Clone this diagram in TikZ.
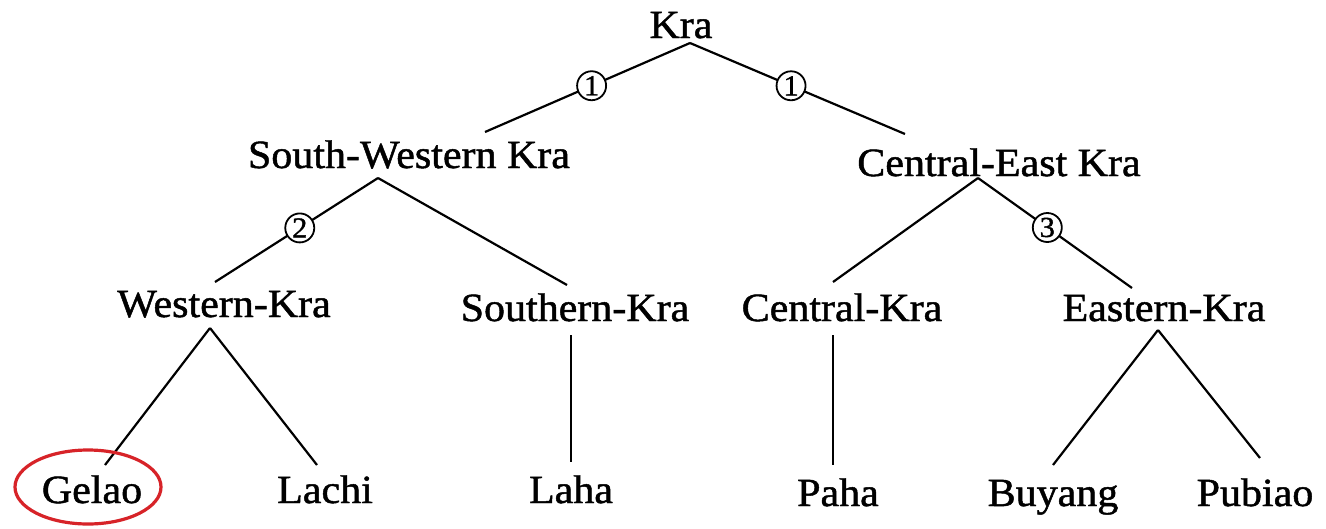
\documentclass[tikz,border=0pt]{standalone}
\usepackage{fontspec}
\setmainfont{Liberation Serif}[FakeStretch=1.05,FakeBold=1.2]
\usetikzlibrary{calc}
\definecolor{markred}{RGB}{215,35,40}
\begin{document}
\begin{tikzpicture}[x=1pt,y=-1pt,
  lbl/.style={anchor=base, inner sep=0pt, font=\fontsize{40}{46}\selectfont},
  edge/.style={line width=2.2pt, black},
  num/.style={circle, draw, fill=white, line width=1.8pt, inner sep=0pt, minimum size=29pt, font=\fontsize{29}{30}\selectfont},
  mark ring/.style={draw=markred, line width=3.2pt}]
\useasboundingbox (0,0) rectangle (1326,528);
\fill[white] (0,0) rectangle (1326,528);
% level 0
\node[lbl] (kra) at (681,38) {Kra};
% level 1
\node[lbl] (sw) at (409,168) {South-Western Kra};
\node[lbl] (ce) at (999,176) {Central-East Kra};
% level 2
\node[lbl] (west) at (224,317) {Western-Kra};
\node[lbl] (south) at (575,321) {Southern-Kra};
\node[lbl] (central) at (842,321) {Central-Kra};
\node[lbl] (east) at (1164,321) {Eastern-Kra};
% leaves
\node[lbl] (gelao) at (92,503) {Gelao};
\node[lbl] (lachi) at (325,503) {Lachi};
\node[lbl] (laha) at (571,503) {Laha};
\node[lbl] (paha) at (838,506) {Paha};
\node[lbl] (buyang) at (1053,506) {Buyang};
\node[lbl] (pubiao) at (1255,506) {Pubiao};
% connectors
\draw[edge] ($(kra.base)+(9,5)$) -- node[num,pos=0.48]{1} ($(sw.base)+(76,-36)$);
\draw[edge] ($(kra.base)+(9,5)$) -- node[num,pos=0.47]{1} ($(ce.base)+(-94,-42)$);
\draw[edge] ($(sw.base)+(-31,10)$) -- node[num,pos=0.48]{2} ($(west.base)+(-9,-35)$);
\draw[edge] ($(sw.base)+(-31,10)$) -- ($(south.base)+(-8,-36)$);
\draw[edge] ($(ce.base)+(-21,2)$) -- ($(central.base)+(-9,-39)$);
\draw[edge] ($(ce.base)+(-21,2)$) -- node[num,pos=0.45]{3} ($(east.base)+(-32,-33)$);
\draw[edge] ($(west.base)+(-14,11)$) -- ($(gelao.base)+(13,-38)$);
\draw[edge] ($(west.base)+(-14,11)$) -- ($(lachi.base)+(-8,-38)$);
\draw[edge] ($(south.base)+(-4,14)$) -- ($(laha.base)+(0,-41)$);
\draw[edge] ($(central.base)+(-9,14)$) -- ($(paha.base)+(-5,-41)$);
\draw[edge] ($(east.base)+(-6,9)$) -- ($(buyang.base)+(0,-41)$);
\draw[edge] ($(east.base)+(-6,9)$) -- ($(pubiao.base)+(5,-48)$);
% red ring around Gelao
\draw[mark ring] ($(gelao.base)+(-4,-16)$) ellipse [x radius=73pt, y radius=37pt];
\end{tikzpicture}
\end{document}
